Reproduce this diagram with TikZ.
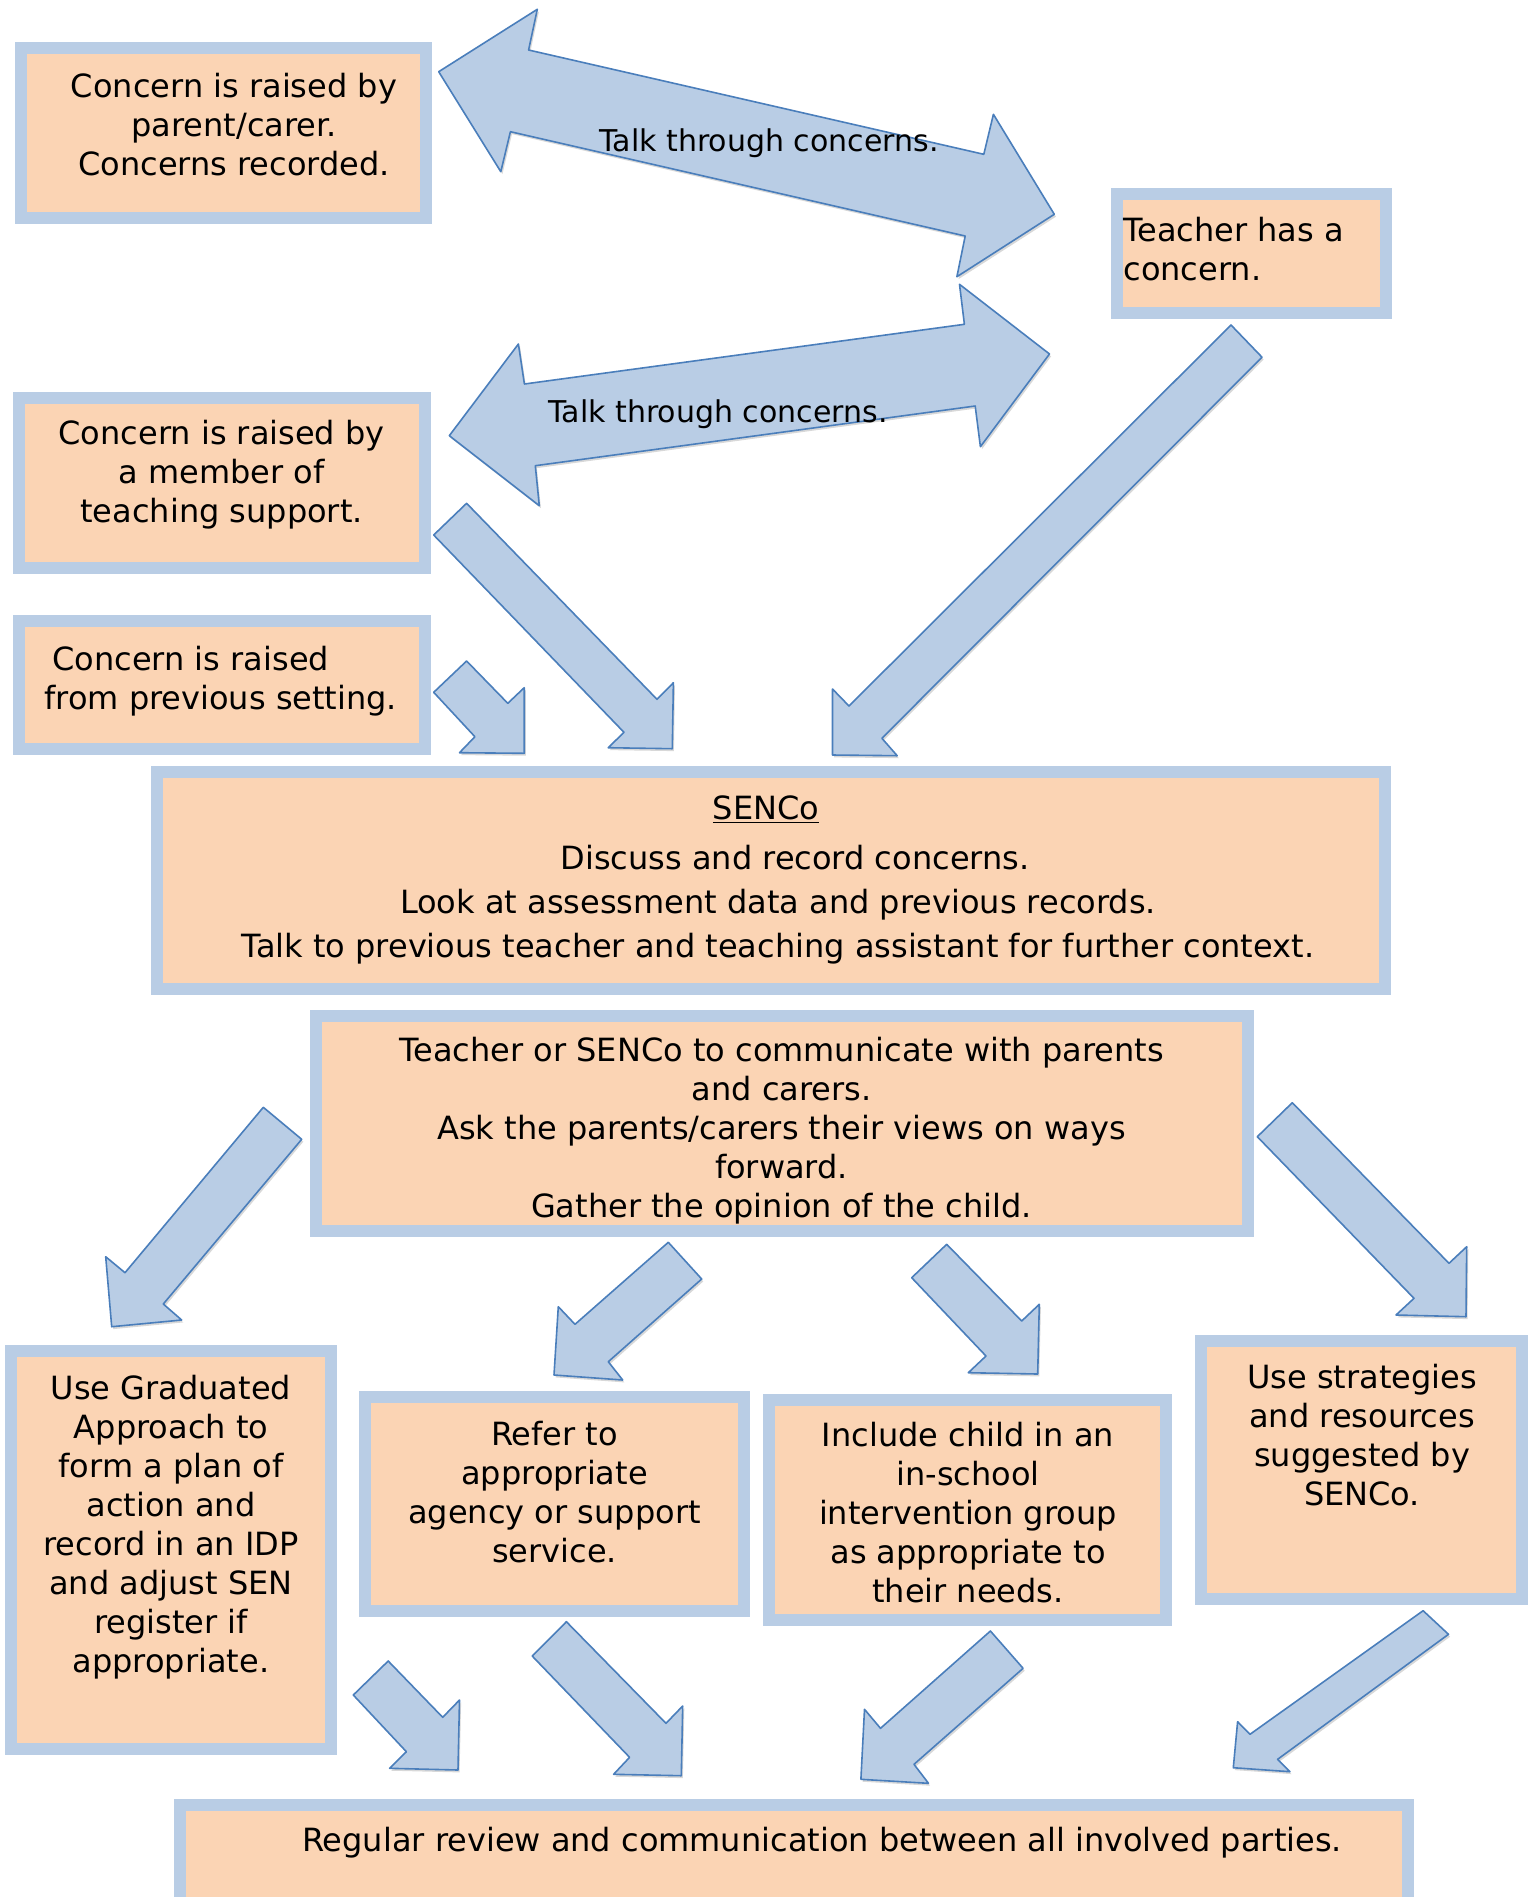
\documentclass[tikz,border=0pt]{standalone}
\usepackage{fontspec}
\setmainfont{DejaVu Sans}
\usetikzlibrary{fit}
\usetikzlibrary{shadows}
\definecolor{mpeach}{HTML}{FBD4B4}
\definecolor{mframe}{HTML}{B9CDE5}
\definecolor{mfill}{HTML}{B9CDE5}
\definecolor{medge}{HTML}{4A7EBB}
\tikzset{panel/.style = {draw=mframe, fill=mpeach, line width=6pt, inner sep=0, outer sep=0}}
\tikzset{txt/.style = {font=\fontsize{16}{19.5}\selectfont, align=center, inner sep=0, anchor=base}}
\tikzset{barrow/.style = {draw=medge, fill=mfill, line width=0.8pt, line join=round,
    drop shadow={shadow xshift=0.8pt, shadow yshift=-1.2pt, fill=black!30, opacity=0.5}}}

\begin{document}
\begin{tikzpicture}[x=0.5pt, y=-0.5pt]
      \clip (0,0) rectangle (1528,1897);
      \fill [white] (0,0) rectangle (1528,1897);

      % boxes
      \node [panel, fit={(21,48) (426,218)}] (parent) {};
      \node [panel, fit={(1117,194) (1386,313)}] (teacher) {};
      \node [panel, fit={(19,398) (425,568)}] (support) {};
      \node [panel, fit={(19,621) (425,749)}] (previous) {};
      \node [panel, fit={(157,772) (1385,989)}] (senco) {};
      \node [panel, fit={(316,1016) (1248,1231)}] (talk) {};
      \node [panel, fit={(11,1351) (331,1749)}] (graduated) {};
      \node [panel, fit={(365,1397) (744,1611)}] (refer) {};
      \node [panel, fit={(769,1400) (1166,1620)}] (include) {};
      \node [panel, fit={(1201,1341) (1522,1599)}] (strategies) {};
      \node [panel, fit={(179.5,1805) (1408,1920)}] (review) {};

      % block arrows
      \draw [barrow] (438.7,71.7) -- (537.3,9.3) -- (528.6,50) -- (983.8,154.3) -- (993.4,114.3)
        -- (1054.3,214.3) -- (956.9,276.7) -- (965.2,236) -- (510.4,131.7) -- (500.8,171.7) -- cycle;
      \draw [barrow] (449.3,435.7) -- (518.4,344) -- (524.4,384) -- (964.4,324.3) -- (959.5,284.3)
        -- (1049.5,354) -- (980.4,446.7) -- (975.2,406) -- (535.3,465.7) -- (539.3,505.7) -- cycle;
      \draw [barrow] (433.7,535) -- (466.6,503.3) -- (657,699.3) -- (673.4,682.7) -- (672.3,748.7) -- (608.2,747.7) -- (624,732.3) -- cycle;
      \draw [barrow] (433.7,692.3) -- (466.6,661) -- (507.8,703.3) -- (524.2,687.7) -- (524.2,753.3) -- (459.5,752.7) -- (474.9,736.7) -- cycle;
      \draw [barrow] (1231,325) -- (1262,357.2) -- (881.9,738.3) -- (897.2,755.7) -- (832.5,755) -- (832.5,689) -- (849,706) -- cycle;
      \draw [barrow] (263.3,1107.3) -- (301.7,1139.3) -- (163.3,1304) -- (181.7,1320) -- (111.7,1326.7) -- (105.7,1256.7) -- (125,1272.7) -- cycle;
      \draw [barrow] (668.3,1242.3) -- (701.7,1279) -- (608.3,1361.7) -- (622.7,1380) -- (554,1375) -- (558.3,1306.7) -- (575,1324.3) -- cycle;
      \draw [barrow] (911.7,1277.7) -- (946.7,1244.3) -- (1021.7,1321) -- (1039.3,1304.3) -- (1037.7,1374) -- (968.3,1372.7) -- (986,1356) -- cycle;
      \draw [barrow] (1257.3,1136.7) -- (1292.3,1102.7) -- (1449,1263.3) -- (1466.7,1246.7) -- (1466,1316.7) -- (1396,1315) -- (1414,1298.3) -- cycle;
      \draw [barrow] (353.3,1695) -- (388.2,1661) -- (442.7,1717.3) -- (459.5,1700) -- (458,1770) -- (389.6,1768.3) -- (406.4,1751.7) -- cycle;
      \draw [barrow] (532.2,1656) -- (566.4,1621.7) -- (666,1723.3) -- (682.7,1706) -- (681.3,1775.7) -- (613.6,1774.3) -- (629.6,1757.3) -- cycle;
      \draw [barrow] (990.4,1631) -- (1023.1,1668.3) -- (914,1764.3) -- (928.5,1783.3) -- (860.9,1779.3) -- (864.5,1709.3) -- (880.5,1728.3) -- cycle;
      \draw [barrow] (1423.1,1610.7) -- (1448.5,1634.3) -- (1277.6,1759.3) -- (1290,1771.7) -- (1233.3,1767.7) -- (1237.6,1721.7) -- (1250,1734.3) -- cycle;

      % texts (anchored at the baseline of the last line)
      \node [txt] (parentText) at (234,175) {Concern is raised by\\parent/carer.\\Concerns recorded.};
      \node [txt, align=left, anchor=base west] (teacherText) at (1123,280) {Teacher has a\\concern.};
      \node [txt] (supportText) at (221.6,522) {Concern is raised by\\a member of\\teaching support.};
      \node [txt, align=left, anchor=base west] (previousText) at (44,709) {\hspace*{4pt}Concern is raised\\from previous setting.};
      \node [txt, font=\fontsize{16}{22}\selectfont] (sencoText) at (778,957.5)
        {\underline{SENCo}\hspace*{12pt}\\[3pt]\hspace*{17pt}Discuss and record concerns.\\Look at assessment data and previous records.\hspace*{7pt}\\Talk to previous teacher and teaching assistant for further context.};
      \node [txt] (talkText) at (781.5,1217.5) {Teacher or SENCo to communicate with parents\\and carers.\\Ask the parents/carers their views on ways\\forward.\\Gather the opinion of the child.};
      \node [txt] (graduatedText) at (171,1672) {Use Graduated\\Approach to\\form a plan of\\action and\\record in an IDP\\and adjust SEN\\register if\\appropriate.};
      \node [txt] (referText) at (554.5,1562.8) {Refer to\\appropriate\\agency or support\\service.};
      \node [txt] (includeText) at (968,1602.7) {Include child in an\\in-school\\intervention group\\as appropriate to\\their needs.};
      \node [txt] (strategiesText) at (1362,1505.6) {Use strategies\\and resources\\suggested by\\SENCo.};
      \node [txt] (reviewText) at (822,1851.4) {Regular review and communication between all involved parties.};
      \node [txt, font=\fontsize{15}{19.5}\selectfont, anchor=base west] (talkA) at (599,151.7) {Talk through concerns.};
      \node [txt, font=\fontsize{15}{19.5}\selectfont, anchor=base west] (talkB) at (548,422) {Talk through concerns.};
    \end{tikzpicture}
\end{document}
